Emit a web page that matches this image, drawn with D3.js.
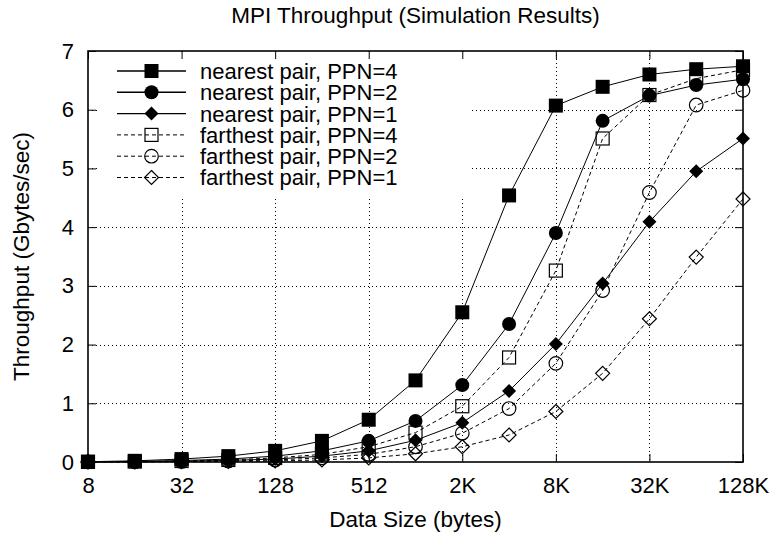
<!DOCTYPE html>
<html lang="en">
<head>
<meta charset="UTF-8">
<title>MPI Throughput</title>
<script src="https://d3js.org/d3.v7.min.js"></script>
<style>
  body { margin: 0; background: #fff; }
  text { font-family: "Liberation Sans", Arial, Helvetica, sans-serif; fill: #000; }
</style>
</head>
<body>
<script>
// Data sizes in bytes (x) and throughput in Gbytes/sec (y)
const sizes = [8, 16, 32, 64, 128, 256, 512, 1024, 2048, 4096, 8192, 16384, 32768, 65536, 131072];
const near4 = [0.005, 0.02, 0.05, 0.10, 0.19, 0.36, 0.72, 1.39, 2.55, 4.54, 6.07, 6.39, 6.60, 6.69, 6.74];
const near2 = [0.003, 0.01, 0.025, 0.05, 0.10, 0.19, 0.36, 0.70, 1.31, 2.35, 3.90, 5.81, 6.24, 6.42, 6.52];
const near1 = [0.002, 0.005, 0.013, 0.027, 0.05, 0.10, 0.19, 0.37, 0.67, 1.21, 2.01, 3.04, 4.09, 4.95, 5.51];
const far4 = [0.002, 0.007, 0.017, 0.035, 0.07, 0.13, 0.26, 0.50, 0.95, 1.78, 3.26, 5.51, 6.25, 6.53, 6.68];
const far2 = [0.001, 0.004, 0.009, 0.018, 0.035, 0.07, 0.13, 0.26, 0.49, 0.91, 1.68, 2.92, 4.59, 6.08, 6.33];
const far1 = [0.001, 0.002, 0.005, 0.009, 0.018, 0.035, 0.07, 0.14, 0.26, 0.46, 0.86, 1.51, 2.44, 3.49, 4.48];

const seriesNames = ["nearest pair, PPN=4", "nearest pair, PPN=2", "nearest pair, PPN=1",
                     "farthest pair, PPN=4", "farthest pair, PPN=2", "farthest pair, PPN=1"];
const seriesValues = [near4, near2, near1, far4, far2, far1];

const xTicks = [8, 32, 128, 512, 2048, 8192, 32768, 131072];
const xTickLabels = ["8", "32", "128", "512", "2K", "8K", "32K", "128K"];
const yTicks = [0, 1, 2, 3, 4, 5, 6, 7];

const w = 772, h = 533;
const pLeft = 88, pRight = 743, pTop = 51, pBottom = 462;

const svg = d3.select("body").append("svg")
  .attr("width", w).attr("height", h);

const x = d3.scaleLog().base(2).domain([8, 131072]).range([pLeft, pRight]);
const y = d3.scaleLinear().domain([0, 7]).range([pBottom, pTop]);

// grid lines (dotted)
const grid = svg.append("g").attr("stroke", "#000").attr("stroke-width", 1)
  .attr("stroke-dasharray", "1,3");
grid.selectAll(".gx").data(xTicks.slice(1, -1)).join("line").attr("class", "gx")
  .attr("x1", d => Math.round(x(d)) + 0.5).attr("x2", d => Math.round(x(d)) + 0.5)
  .attr("y1", pTop).attr("y2", pBottom);
grid.selectAll(".gy").data(yTicks.slice(1, -1)).join("line").attr("class", "gy")
  .attr("x1", pLeft).attr("x2", pRight)
  .attr("y1", d => Math.round(y(d)) + 0.5).attr("y2", d => Math.round(y(d)) + 0.5);

// opaque legend box hides the grid behind it
svg.append("rect").attr("x", 100).attr("y", 55).attr("width", 370).attr("height", 141)
  .attr("fill", "#fff");

// axes
const xAxis = svg.append("g").attr("transform", `translate(0,${pBottom})`)
  .call(d3.axisBottom(x).tickValues(xTicks).tickFormat((d, i) => xTickLabels[i])
    .tickSize(-8).tickPadding(15));
const xTop = svg.append("g").attr("transform", `translate(0,${pTop})`)
  .call(d3.axisTop(x).tickValues(xTicks).tickFormat("").tickSize(-8));
const yAxis = svg.append("g").attr("transform", `translate(${pLeft},0)`)
  .call(d3.axisLeft(y).tickValues(yTicks).tickFormat(d3.format("d"))
    .tickSize(-8).tickPadding(14));
const yRight = svg.append("g").attr("transform", `translate(${pRight},0)`)
  .call(d3.axisRight(y).tickValues(yTicks).tickFormat("").tickSize(-8));

[xAxis, xTop, yAxis, yRight].forEach(g => {
  g.select(".domain").remove();
  g.selectAll("line").attr("stroke", "#000").attr("stroke-width", 1);
  g.selectAll("text").attr("font-size", 22)
    .attr("font-family", "'Liberation Sans', Arial, Helvetica, sans-serif");
});

svg.append("rect").attr("x", pLeft).attr("y", pTop)
  .attr("width", pRight - pLeft).attr("height", pBottom - pTop)
  .attr("fill", "none").attr("stroke", "#000").attr("stroke-width", 1.6);

// markers
function drawMarker(g, type, cx, cy) {
  if (type === 0) {
    g.append("rect").attr("x", cx - 7).attr("y", cy - 7).attr("width", 14).attr("height", 14)
      .attr("fill", "#000");
  } else if (type === 1) {
    g.append("circle").attr("cx", cx).attr("cy", cy).attr("r", 7).attr("fill", "#000");
  } else if (type === 2) {
    g.append("path").attr("d", `M${cx},${cy - 7}L${cx + 7},${cy}L${cx},${cy + 7}L${cx - 7},${cy}Z`)
      .attr("fill", "#000");
  } else if (type === 3) {
    g.append("rect").attr("x", cx - 6.5).attr("y", cy - 6.5).attr("width", 13).attr("height", 13)
      .attr("fill", "none").attr("stroke", "#000").attr("stroke-width", 1.2);
  } else if (type === 4) {
    g.append("circle").attr("cx", cx).attr("cy", cy).attr("r", 6.8)
      .attr("fill", "none").attr("stroke", "#000").attr("stroke-width", 1.2);
  } else {
    g.append("path").attr("d", `M${cx},${cy - 7}L${cx + 7},${cy}L${cx},${cy + 7}L${cx - 7},${cy}Z`)
      .attr("fill", "none").attr("stroke", "#000").attr("stroke-width", 1.2);
  }
}

const line = d3.line().x(d => x(d[0])).y(d => y(d[1]));

seriesValues.forEach((vals, s) => {
  const pts = sizes.map((d, i) => [d, vals[i]]);
  const g = svg.append("g");
  g.append("path").datum(pts).attr("d", line)
    .attr("fill", "none").attr("stroke", "#000").attr("stroke-width", 1)
    .attr("stroke-dasharray", s < 3 ? null : "4,3");
  pts.forEach(p => drawMarker(g, s, x(p[0]), y(p[1])));
});

// legend
const leg = svg.append("g");
seriesNames.forEach((name, s) => {
  const ly = 71 + s * 21.3;
  leg.append("line").attr("x1", 117).attr("x2", 186).attr("y1", ly).attr("y2", ly)
    .attr("stroke", "#000").attr("stroke-width", s < 3 ? 1.4 : 1)
    .attr("stroke-dasharray", s < 3 ? null : "4,3");
  drawMarker(leg, s, 151.5, ly);
  leg.append("text").attr("x", 200).attr("y", ly).attr("dy", "0.36em")
    .attr("font-size", 22).text(name);
});

// titles
svg.append("text").attr("x", (pLeft + pRight) / 2).attr("y", 23)
  .attr("text-anchor", "middle").attr("font-size", 22.5)
  .text("MPI Throughput (Simulation Results)");
svg.append("text").attr("x", (pLeft + pRight) / 2).attr("y", 527)
  .attr("text-anchor", "middle").attr("font-size", 22.5)
  .text("Data Size (bytes)");
svg.append("text").attr("transform", `translate(29,${(pTop + pBottom) / 2}) rotate(-90)`)
  .attr("text-anchor", "middle").attr("font-size", 22.5)
  .text("Throughput (Gbytes/sec)");
</script>
</body>
</html>
